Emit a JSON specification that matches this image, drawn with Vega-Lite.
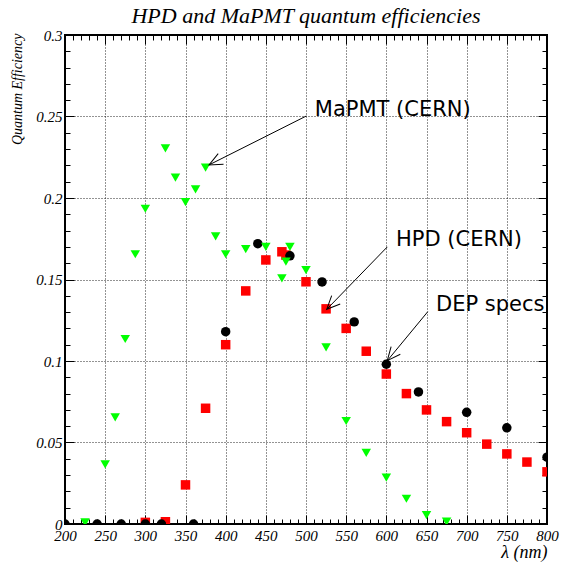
{
  "$schema": "https://vega.github.io/schema/vega-lite/v6.json",
  "autosize": "none",
  "padding": {"left": 65, "top": 35, "right": 14, "bottom": 48},
  "width": 482,
  "height": 489,
  "background": "white",
  "config": {
    "view": {"stroke": "black", "strokeWidth": 2},
    "axis": {"labelColor": "black", "tickColor": "black", "titleColor": "black"}
  },
  "title": {"text": "HPD and MaPMT quantum efficiencies", "font": "Liberation Serif", "fontStyle": "italic", "fontWeight": "normal", "fontSize": 22, "anchor": "middle", "offset": 0, "color": "black"},
  "datasets": {
    "hpd": [
      {"wl": 300, "qe": 0.001}, {"wl": 325, "qe": 0.0014}, {"wl": 350, "qe": 0.024}, {"wl": 375, "qe": 0.071},
      {"wl": 400, "qe": 0.110}, {"wl": 425, "qe": 0.143}, {"wl": 450, "qe": 0.162}, {"wl": 470, "qe": 0.167},
      {"wl": 475, "qe": 0.165}, {"wl": 500, "qe": 0.1486}, {"wl": 525, "qe": 0.132}, {"wl": 550, "qe": 0.120},
      {"wl": 575, "qe": 0.106}, {"wl": 600, "qe": 0.092}, {"wl": 625, "qe": 0.080}, {"wl": 650, "qe": 0.070},
      {"wl": 675, "qe": 0.0628}, {"wl": 700, "qe": 0.056}, {"wl": 725, "qe": 0.049}, {"wl": 750, "qe": 0.043},
      {"wl": 775, "qe": 0.038}, {"wl": 800, "qe": 0.032}
    ],
    "dep": [
      {"wl": 200, "qe": 0}, {"wl": 240, "qe": 0}, {"wl": 270, "qe": 0}, {"wl": 300, "qe": 0}, {"wl": 320, "qe": 0},
      {"wl": 360, "qe": 0}, {"wl": 400, "qe": 0.118}, {"wl": 440, "qe": 0.172}, {"wl": 480, "qe": 0.1645},
      {"wl": 520, "qe": 0.1485}, {"wl": 560, "qe": 0.124}, {"wl": 600, "qe": 0.098}, {"wl": 640, "qe": 0.081},
      {"wl": 700, "qe": 0.0685}, {"wl": 750, "qe": 0.059}, {"wl": 800, "qe": 0.041}
    ],
    "mapmt": [
      {"wl": 225, "qe": 0.001}, {"wl": 250, "qe": 0.0366}, {"wl": 262.5, "qe": 0.0654}, {"wl": 275, "qe": 0.1135},
      {"wl": 287.5, "qe": 0.1655}, {"wl": 300, "qe": 0.1934}, {"wl": 325, "qe": 0.2305}, {"wl": 337.5, "qe": 0.2125},
      {"wl": 350, "qe": 0.1975}, {"wl": 362.5, "qe": 0.2053}, {"wl": 375, "qe": 0.2186}, {"wl": 387.5, "qe": 0.1765},
      {"wl": 400, "qe": 0.1655}, {"wl": 425, "qe": 0.1687}, {"wl": 450, "qe": 0.170}, {"wl": 470, "qe": 0.1507},
      {"wl": 475, "qe": 0.161}, {"wl": 480, "qe": 0.170}, {"wl": 500, "qe": 0.1558}, {"wl": 525, "qe": 0.1084},
      {"wl": 550, "qe": 0.0632}, {"wl": 575, "qe": 0.0437}, {"wl": 600, "qe": 0.0284}, {"wl": 625, "qe": 0.0155},
      {"wl": 650, "qe": 0.0055}, {"wl": 675, "qe": 0.0014}
    ],
    "notes": [
      {"label": "MaPMT (CERN)", "lx": 511, "ly": 0.254, "x1": 500.4, "y1": 0.2503, "x2": 379.3, "y2": 0.2203},
      {"label": "HPD (CERN)", "lx": 612, "ly": 0.1742, "x1": 601.2, "y1": 0.170, "x2": 525.8, "y2": 0.1317},
      {"label": "DEP specs", "lx": 661.8, "ly": 0.1344, "x1": 651.5, "y1": 0.1302, "x2": 601.2, "y2": 0.1002}
    ]
  },
  "resolve": {"axis": {"x": "independent", "y": "independent"}},
  "layer": [
    {
      "data": {"name": "hpd"},
      "mark": {"type": "point", "shape": "square", "filled": true, "color": "#ff0000", "opacity": 1, "size": 90, "clip": true},
      "encoding": {
        "x": {"field": "wl", "type": "quantitative", "scale": {"domain": [200, 800], "nice": false, "zero": false},
          "axis": {"orient": "bottom", "values": [200, 250, 300, 350, 400, 450, 500, 550, 600, 650, 700, 750, 800], "format": "d",
            "grid": true, "gridColor": "black", "gridDash": [1, 2], "gridWidth": 1, "gridOpacity": 0.85,
            "domain": false, "tickSize": -9, "tickWidth": 1, "labelFlush": false, "labelOverlap": false,
            "labelFont": "Liberation Serif", "labelFontStyle": "italic", "labelFontSize": 15, "labelPadding": 13,
            "title": "λ (nm)", "titleFont": "Liberation Serif", "titleFontStyle": "italic", "titleFontWeight": "normal", "titleFontSize": 18,
            "titleX": 482, "titleY": 28, "titleAlign": "right", "titleBaseline": "middle"}},
        "y": {"field": "qe", "type": "quantitative", "scale": {"domain": [0, 0.3], "nice": false},
          "axis": {"orient": "left", "values": [0, 0.05, 0.1, 0.15, 0.2, 0.25, 0.3], "format": "~g",
            "grid": true, "gridColor": "black", "gridDash": [1, 2], "gridWidth": 1, "gridOpacity": 0.85,
            "domain": false, "tickSize": -9, "tickWidth": 1, "labelFlush": false, "labelOverlap": false,
            "labelFont": "Liberation Serif", "labelFontStyle": "italic", "labelFontSize": 15, "labelPadding": 12,
            "title": "Quantum Efficiency", "titleFont": "Liberation Serif", "titleFontStyle": "italic", "titleFontWeight": "normal", "titleFontSize": 14,
            "titleX": -48, "titleY": -2, "titleAngle": -90, "titleAlign": "right", "titleBaseline": "middle"}}
      }
    },
    {
      "data": {"name": "dep"},
      "mark": {"type": "point", "shape": "circle", "filled": true, "color": "black", "opacity": 1, "size": 90, "clip": true},
      "encoding": {
        "x": {"field": "wl", "type": "quantitative",
          "axis": {"orient": "bottom", "values": [200,210,220,230,240,250,260,270,280,290,300,310,320,330,340,350,360,370,380,390,400,410,420,430,440,450,460,470,480,490,500,510,520,530,540,550,560,570,580,590,600,610,620,630,640,650,660,670,680,690,700,710,720,730,740,750,760,770,780,790,800],
            "labels": false, "grid": false, "domain": false, "tickSize": -5, "tickWidth": 1, "title": null}},
        "y": {"field": "qe", "type": "quantitative",
          "axis": {"orient": "left", "values": [0,0.01,0.02,0.03,0.04,0.05,0.06,0.07,0.08,0.09,0.1,0.11,0.12,0.13,0.14,0.15,0.16,0.17,0.18,0.19,0.2,0.21,0.22,0.23,0.24,0.25,0.26,0.27,0.28,0.29,0.3],
            "labels": false, "grid": false, "domain": false, "tickSize": -5, "tickWidth": 1, "title": null}}
      }
    },
    {
      "data": {"name": "mapmt"},
      "mark": {"type": "point", "shape": "triangle-down", "filled": true, "color": "#00ff00", "opacity": 1, "size": 90, "clip": true},
      "encoding": {
        "x": {"field": "wl", "type": "quantitative",
          "axis": {"orient": "top", "values": [200, 250, 300, 350, 400, 450, 500, 550, 600, 650, 700, 750, 800],
            "labels": false, "grid": false, "domain": false, "tickSize": -9, "tickWidth": 1, "title": null}},
        "y": {"field": "qe", "type": "quantitative",
          "axis": {"orient": "right", "values": [0, 0.05, 0.1, 0.15, 0.2, 0.25, 0.3],
            "labels": false, "grid": false, "domain": false, "tickSize": -9, "tickWidth": 1, "title": null}}
      }
    },
    {
      "data": {"name": "notes"},
      "mark": {"type": "text", "align": "left", "baseline": "middle", "font": "DejaVu Sans", "fontSize": 21, "color": "black"},
      "encoding": {
        "x": {"field": "lx", "type": "quantitative",
          "axis": {"orient": "top", "values": [200,210,220,230,240,250,260,270,280,290,300,310,320,330,340,350,360,370,380,390,400,410,420,430,440,450,460,470,480,490,500,510,520,530,540,550,560,570,580,590,600,610,620,630,640,650,660,670,680,690,700,710,720,730,740,750,760,770,780,790,800],
            "labels": false, "grid": false, "domain": false, "tickSize": -5, "tickWidth": 1, "title": null}},
        "y": {"field": "ly", "type": "quantitative",
          "axis": {"orient": "right", "values": [0,0.01,0.02,0.03,0.04,0.05,0.06,0.07,0.08,0.09,0.1,0.11,0.12,0.13,0.14,0.15,0.16,0.17,0.18,0.19,0.2,0.21,0.22,0.23,0.24,0.25,0.26,0.27,0.28,0.29,0.3],
            "labels": false, "grid": false, "domain": false, "tickSize": -5, "tickWidth": 1, "title": null}},
        "text": {"field": "label"}
      }
    },
    {
      "data": {"name": "notes"},
      "mark": {"type": "rule", "color": "black", "strokeWidth": 1},
      "encoding": {
        "x": {"field": "x1", "type": "quantitative", "axis": null},
        "y": {"field": "y1", "type": "quantitative", "axis": null},
        "x2": {"field": "x2"},
        "y2": {"field": "y2"}
      }
    },
    {
      "data": {"name": "notes"},
      "transform": [{"filter": "datum.label == 'MaPMT (CERN)'"}],
      "mark": {"type": "point", "shape": "M-1,-0.45L0,0L-1,0.45", "filled": false, "color": "black", "strokeWidth": 1, "opacity": 1, "size": 700, "angle": 153.4},
      "encoding": {
        "x": {"field": "x2", "type": "quantitative", "axis": null},
        "y": {"field": "y2", "type": "quantitative", "axis": null}
      }
    },
    {
      "data": {"name": "notes"},
      "transform": [{"filter": "datum.label == 'HPD (CERN)'"}],
      "mark": {"type": "point", "shape": "M-1,-0.45L0,0L-1,0.45", "filled": false, "color": "black", "strokeWidth": 1, "opacity": 1, "size": 700, "angle": 134.1},
      "encoding": {
        "x": {"field": "x2", "type": "quantitative", "axis": null},
        "y": {"field": "y2", "type": "quantitative", "axis": null}
      }
    },
    {
      "data": {"name": "notes"},
      "transform": [{"filter": "datum.label == 'DEP specs'"}],
      "mark": {"type": "point", "shape": "M-1,-0.45L0,0L-1,0.45", "filled": false, "color": "black", "strokeWidth": 1, "opacity": 1, "size": 700, "angle": 129.5},
      "encoding": {
        "x": {"field": "x2", "type": "quantitative", "axis": null},
        "y": {"field": "y2", "type": "quantitative", "axis": null}
      }
    }
  ]
}
